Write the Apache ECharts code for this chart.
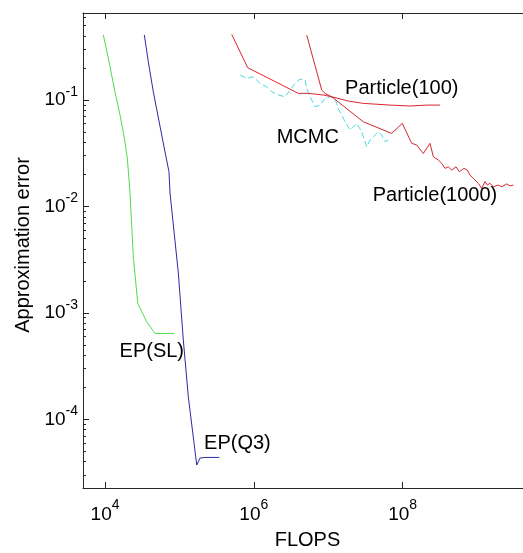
<!DOCTYPE html>
<html>
<head>
<meta charset="utf-8">
<script src="https://cdn.jsdelivr.net/npm/echarts@6/dist/echarts.min.js"></script>
<style>
  html, body { margin: 0; padding: 0; background: #ffffff; }
  #chart { width: 523px; height: 553px; }
</style>
</head>
<body>
<div id="chart"></div>
<script>
const FONT = '"Liberation Sans", Arial, Helvetica, sans-serif';

// EP(SL): cost vs. error
const epSlFlops = [9490, 11080, 13600, 15920, 18160, 19950, 21680, 23990, 27520, 36340, 46970, 85380];
const epSlError = [0.41, 0.2464, 0.1197, 0.0723, 0.0440, 0.0285, 0.01337, 0.003367, 0.001236, 0.000824, 0.000641, 0.000641];

// EP(Q3)
const epQ3Flops = [33740, 38190, 44560, 63960, 72400, 74750, 96680, 112800, 131700, 170900, 189300, 220900, 343700];
const epQ3Error = [0.41, 0.2291, 0.1197, 0.03267, 0.02118, 0.01337, 0.002366, 0.000555, 0.0001626, 3.715e-5, 4.32e-5, 4.38e-5, 4.38e-5];

// Particle filter, 100 particles
const p100Flops = [5.047e5, 8.28e5, 3.963e6, 5.41e6, 8.60e6, 1.114e7, 1.862e7, 2.963e7, 6.77e7, 1.257e8, 2.108e8, 3.18e8];
const p100Error = [0.414, 0.2014, 0.1156, 0.1156, 0.1115, 0.1074, 0.0979, 0.0931, 0.0897, 0.0879, 0.0897, 0.0897];

// Particle filter, 1000 particles
const p1000Flops = [5.14e6, 8.18e6, 9.06e6, 1.114e7, 2.963e7, 7.13e7, 9.90e7, 1.325e8, 1.548e8, 1.898e8, 2.335e8,
  2.587e8, 3.02e8, 3.357e8, 3.716e8, 4.114e8, 4.57e8, 5.22e8, 5.78e8, 6.69e8, 7.41e8, 8.05e8, 8.92e8,
  1.04e9, 1.156e9, 1.281e9, 1.375e9, 1.495e9, 1.656e9, 1.932e9, 2.148e9, 2.506e9, 2.778e9, 3.077e9];
const p1000Error = [0.408, 0.1241, 0.1156, 0.1074, 0.0625, 0.0486, 0.0604, 0.0392, 0.0378, 0.0315, 0.0392,
  0.0293, 0.0273, 0.0254, 0.0228, 0.0236, 0.0220, 0.0236, 0.0212, 0.0228, 0.0220, 0.0197, 0.0184,
  0.0165, 0.0148, 0.0171, 0.0159, 0.0165, 0.0153, 0.0159, 0.0153, 0.0163, 0.0156, 0.0159];

// MCMC
const mcmcFlops = [6.53e5, 8.03e5, 9.85e5, 1.211e6, 1.490e6, 1.741e6, 2.135e6, 2.626e6, 3.07e6, 3.58e6, 4.18e6,
  4.88e6, 5.14e6, 5.69e6, 6.65e6, 7.76e6, 9.06e6, 1.057e7, 1.234e7, 1.367e7, 1.683e7, 1.965e7, 2.174e7,
  2.415e7, 2.818e7, 3.29e7, 3.65e7, 4.26e7, 4.71e7, 5.24e7, 5.80e7, 6.42e7];
const mcmcError = [0.1718, 0.160, 0.1656, 0.1435, 0.1333, 0.1197, 0.1115, 0.1074, 0.1241, 0.1435, 0.1574,
  0.1541, 0.1288, 0.1074, 0.0865, 0.0897, 0.1038, 0.1074, 0.1038, 0.0835, 0.0625, 0.0522, 0.0561,
  0.0604, 0.0504, 0.0364, 0.0421, 0.0469, 0.0504, 0.0469, 0.0406, 0.0421];

// Axis extents and tick values
const xRange = [5058, 4.15e9];
const yRange = [2.26e-5, 0.658];
const xMajorTicks = [1e4, 1e6, 1e8];
const yMajorTicks = [1e-4, 1e-3, 1e-2, 1e-1];
const yMinorTicks = [3e-5, 4e-5, 5e-5, 6e-5, 7e-5, 8e-5, 9e-5,
  2e-4, 3e-4, 4e-4, 5e-4, 6e-4, 7e-4, 8e-4, 9e-4,
  2e-3, 3e-3, 4e-3, 5e-3, 6e-3, 7e-3, 8e-3, 9e-3,
  2e-2, 3e-2, 4e-2, 5e-2, 6e-2, 7e-2, 8e-2, 9e-2,
  2e-1, 3e-1, 4e-1, 5e-1, 6e-1];

const zip = (xs, ys) => xs.map((x, i) => [x, ys[i]]);
const powerLabel = v => '{b|10}{s|' + Math.round(Math.log10(v)) + '}';
const AXIS_COLOR = '#262626';

function curve(name, xs, ys, color, lineType, tag) {
  return {
    name: name,
    type: 'line',
    data: zip(xs, ys),
    showSymbol: false,
    symbol: 'none',
    lineStyle: { color: color, width: 1, type: lineType },
    markPoint: {
      symbol: 'circle',
      symbolSize: 0,
      silent: true,
      data: [{ coord: tag.at, name: name }],
      label: {
        show: true, position: 'right', distance: 0, formatter: '{b}',
        color: '#000', fontFamily: FONT, fontSize: 20
      }
    }
  };
}

const chart = echarts.init(document.getElementById('chart'), null, { renderer: 'canvas' });
chart.setOption({
  animation: false,
  backgroundColor: '#ffffff',
  grid: { left: 83, top: 13, right: 0, bottom: 65, containLabel: false, outerBoundsMode: 'none' },
  xAxis: [
    {
      type: 'log', logBase: 10, min: xRange[0], max: xRange[1], position: 'bottom',
      name: 'FLOPS', nameLocation: 'middle', nameGap: 42,
      nameTextStyle: { color: '#000', fontFamily: FONT, fontSize: 20, padding: [0, 0, 0, 9] },
      axisLine: { show: true, lineStyle: { color: AXIS_COLOR, width: 1 } },
      axisTick: { show: true, inside: true, length: 6, customValues: xMajorTicks, lineStyle: { color: AXIS_COLOR } },
      axisLabel: {
        show: true, customValues: xMajorTicks, margin: 10, formatter: powerLabel,
        rich: {
          b: { fontFamily: FONT, fontSize: 19, color: '#000', lineHeight: 34, verticalAlign: 'middle' },
          s: { fontFamily: FONT, fontSize: 14, color: '#000', lineHeight: 14, verticalAlign: 'top' }
        }
      },
      splitLine: { show: false }, minorTick: { show: false }
    },
    {
      type: 'log', logBase: 10, min: xRange[0], max: xRange[1], position: 'top',
      axisLine: { show: true, lineStyle: { color: AXIS_COLOR, width: 1 } },
      axisTick: { show: true, inside: true, length: 6, customValues: xMajorTicks, lineStyle: { color: AXIS_COLOR } },
      axisLabel: { show: false }, splitLine: { show: false }
    }
  ],
  yAxis: [
    {
      type: 'log', logBase: 10, min: yRange[0], max: yRange[1], position: 'left',
      name: 'Approximation error', nameLocation: 'middle', nameGap: 45,
      nameTextStyle: { color: '#000', fontFamily: FONT, fontSize: 20, padding: [0, 0, 0, 11] },
      axisLine: { show: true, lineStyle: { color: AXIS_COLOR, width: 1 } },
      axisTick: { show: true, inside: true, length: 6, customValues: yMajorTicks, lineStyle: { color: AXIS_COLOR } },
      axisLabel: {
        show: true, customValues: yMajorTicks, margin: 5, formatter: powerLabel,
        rich: {
          b: { fontFamily: FONT, fontSize: 19, color: '#000', lineHeight: 30, verticalAlign: 'middle' },
          s: { fontFamily: FONT, fontSize: 14, color: '#000', lineHeight: 14, verticalAlign: 'top' }
        }
      },
      splitLine: { show: false }
    },
    {
      type: 'log', logBase: 10, min: yRange[0], max: yRange[1], position: 'left', offset: 0,
      axisLine: { show: false },
      axisTick: { show: true, inside: true, length: 3, customValues: yMinorTicks, lineStyle: { color: AXIS_COLOR } },
      axisLabel: { show: false }, splitLine: { show: false }
    }
  ],
  series: [
    curve('EP(SL)', epSlFlops, epSlError, '#4fdc4f', 'solid', { at: [15670, 0.000438] }),
    curve('EP(Q3)', epQ3Flops, epQ3Error, '#2b2ba6', 'solid', { at: [214300, 5.89e-5] }),
    curve('MCMC', mcmcFlops, mcmcError, '#4cd9e0', [6, 3], { at: [2.03e6, 0.0449] }),
    curve('Particle(100)', p100Flops, p100Error, '#dc2430', 'solid', { at: [1.683e7, 0.1288] }),
    curve('Particle(1000)', p1000Flops, p1000Error, '#d42630', 'solid', { at: [3.96e7, 0.0128] })
  ]
});
</script>
</body>
</html>
